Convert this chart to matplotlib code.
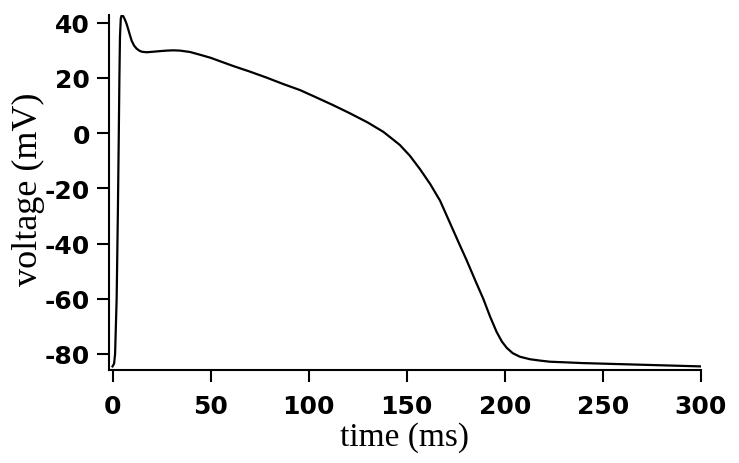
import numpy as np
import matplotlib.pyplot as plt

# action potential trace
time_ms = [0, 0.8, 1.3, 2.1, 2.7, 3.2, 3.5, 3.8, 4.2, 4.7, 5.5, 6.4, 7.2, 8.1,
           9.0, 9.8, 11.0, 12.3, 13.6, 14.9, 17.4, 20.8, 24, 27.6, 31, 34.4,
           39.5, 44.6, 50, 55, 61.6, 70, 78.6, 87, 95.6, 104, 112, 121, 130,
           138, 143, 146.5, 151.6, 156.7, 162, 167, 172, 177, 180.5, 185, 189,
           192.5, 195.8, 198.5, 201, 204, 207.7, 212.8, 218, 223, 230, 240,
           255, 270, 285, 300]
voltage_mv = [-84.5, -83.5, -80, -60, -30, 0, 20, 35, 41.5, 42.8, 42.3, 41,
              39.5, 37.4, 35.2, 33.4, 31.7, 30.6, 29.9, 29.5, 29.3, 29.5, 29.7,
              29.9, 30.0, 29.9, 29.4, 28.4, 27.3, 26.0, 24.3, 22.3, 20.1, 17.8,
              15.6, 12.9, 10.3, 7.2, 3.9, 0.5, -2.3, -4.3, -8.2, -13, -18.5,
              -24.5, -32.5, -40.5, -46, -53.5, -60, -66.5, -72, -75.5, -77.8,
              -79.7, -81, -81.9, -82.4, -82.8, -83.0, -83.3, -83.6, -83.9,
              -84.2, -84.5]

x_ticks = [0, 50, 100, 150, 200, 250, 300]
y_ticks = [-80, -60, -40, -20, 0, 20, 40]

plt.rcParams['axes.unicode_minus'] = False

fig = plt.figure(figsize=(7.39, 4.64), dpi=100)
ax = fig.add_axes([109 / 739, 1 - 371 / 464, 592 / 739, 355 / 464])

ax.plot(time_ms, voltage_mv, color='black', linewidth=1.6)

ax.set_xlim(-1.8, 300)
ax.set_ylim(-85.8, 42.8)
ax.set_xticks(x_ticks)
ax.set_yticks(y_ticks)

for side in ['top', 'right']:
    ax.spines[side].set_visible(False)
for side in ['left', 'bottom']:
    ax.spines[side].set_linewidth(1.5)

ax.tick_params(direction='out', length=8.5, width=1.5, pad=5)
ax.tick_params(axis='x', pad=9)
for lbl in ax.get_xticklabels() + ax.get_yticklabels():
    lbl.set_fontfamily('DejaVu Sans')
    lbl.set_fontweight('bold')
    lbl.set_fontsize(18)

ax.set_xlabel('time (ms)', family='Liberation Serif', fontsize=24)
ax.set_ylabel('voltage (mV)', family='Liberation Serif', fontsize=26)
ax.xaxis.set_label_coords(0.5, -0.145)
ax.yaxis.set_label_coords(-0.108, 0.513)

fig.savefig('out.png', dpi=100)
